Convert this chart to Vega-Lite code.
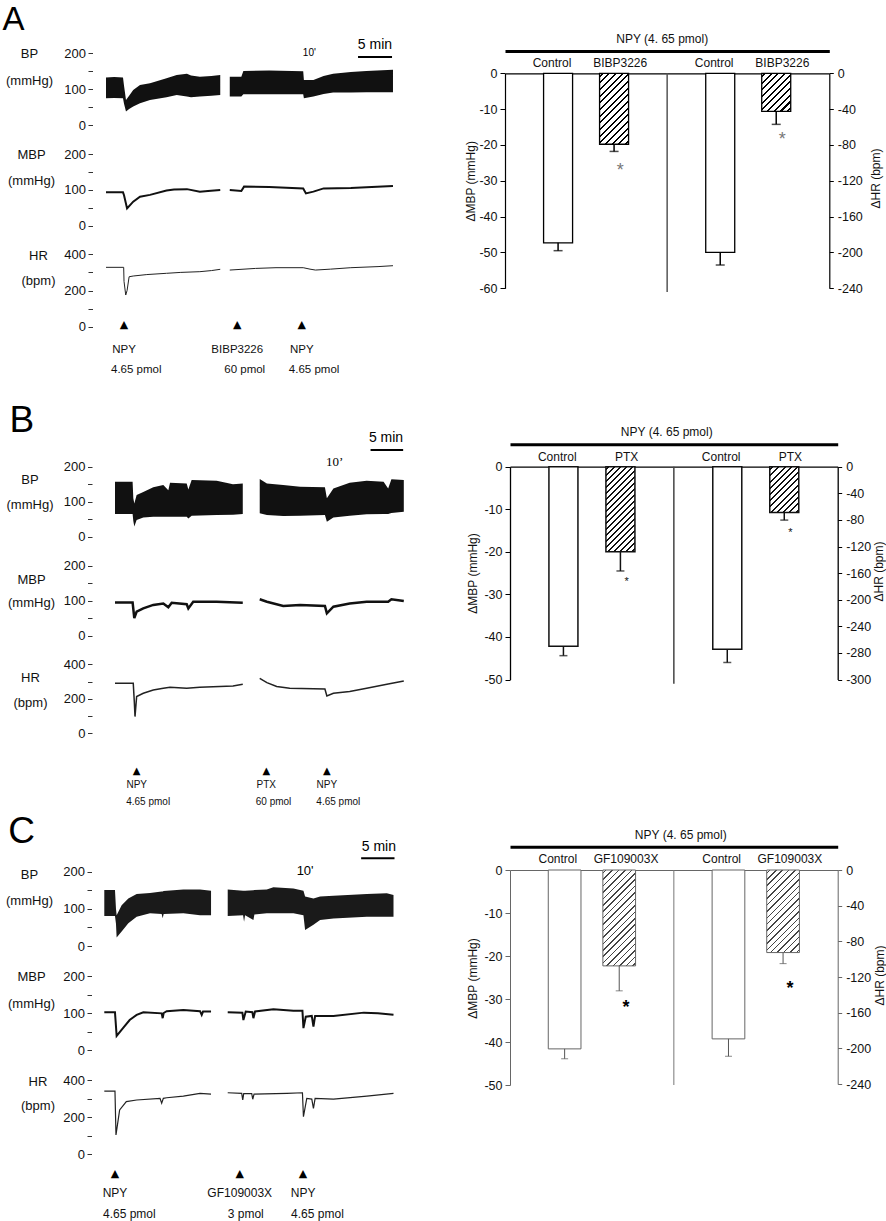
{
"$schema": "https://vega.github.io/schema/vega-lite/v6.json",
"width": 886, "height": 1221, "autosize": "none", "padding": 0, "background": "#ffffff",
"config": {"view": {"stroke": null}, "font": "Liberation Sans",
  "axis": {"grid": false, "labelFont": "Liberation Sans", "titleFont": "Liberation Sans", "titleFontWeight": "normal", "labelOverlap": false, "labelColor": "#111", "titleColor": "#111", "labelFlush": false},
  "text": {"font": "Liberation Sans"}},
"datasets": {
"trace": [
{"p":"A","s":"BP","g":1,"t":0,"lo":75,"hi":133},{"p":"A","s":"BP","g":1,"t":1.2,"lo":76,"hi":134},{"p":"A","s":"BP","g":1,"t":2.5,"lo":75,"hi":133},{"p":"A","s":"BP","g":1,"t":2.65,"lo":60,"hi":110},{"p":"A","s":"BP","g":1,"t":2.94,"lo":38,"hi":70},{"p":"A","s":"BP","g":1,"t":3.4,"lo":45,"hi":82},{"p":"A","s":"BP","g":1,"t":4.0,"lo":52,"hi":98},{"p":"A","s":"BP","g":1,"t":5.0,"lo":61,"hi":112},{"p":"A","s":"BP","g":1,"t":6.47,"lo":70,"hi":117},{"p":"A","s":"BP","g":1,"t":8.9,"lo":78,"hi":131},{"p":"A","s":"BP","g":1,"t":10.4,"lo":84,"hi":140},{"p":"A","s":"BP","g":1,"t":11.9,"lo":80,"hi":143},{"p":"A","s":"BP","g":1,"t":12.5,"lo":78,"hi":138},{"p":"A","s":"BP","g":1,"t":13.8,"lo":80,"hi":135},{"p":"A","s":"BP","g":1,"t":15.5,"lo":82,"hi":137},{"p":"A","s":"BP","g":1,"t":16.8,"lo":84,"hi":140},
{"p":"A","s":"BP","g":2,"t":18.2,"lo":80,"hi":135},{"p":"A","s":"BP","g":2,"t":19.9,"lo":80,"hi":135},{"p":"A","s":"BP","g":2,"t":20.2,"lo":86,"hi":151},{"p":"A","s":"BP","g":2,"t":24,"lo":86,"hi":152},{"p":"A","s":"BP","g":2,"t":29.0,"lo":86,"hi":150},{"p":"A","s":"BP","g":2,"t":29.1,"lo":75,"hi":126},{"p":"A","s":"BP","g":2,"t":30.5,"lo":80,"hi":126},{"p":"A","s":"BP","g":2,"t":32.0,"lo":87,"hi":137},{"p":"A","s":"BP","g":2,"t":33.4,"lo":91,"hi":143},{"p":"A","s":"BP","g":2,"t":36,"lo":91,"hi":148},{"p":"A","s":"BP","g":2,"t":38.3,"lo":92,"hi":151},{"p":"A","s":"BP","g":2,"t":42.2,"lo":92,"hi":154},
{"p":"A","s":"MBP","g":1,"t":0,"v":93},{"p":"A","s":"MBP","g":1,"t":2.5,"v":93},{"p":"A","s":"MBP","g":1,"t":2.65,"v":85},{"p":"A","s":"MBP","g":1,"t":3.1,"v":48},{"p":"A","s":"MBP","g":1,"t":4.0,"v":67},{"p":"A","s":"MBP","g":1,"t":5.0,"v":81},{"p":"A","s":"MBP","g":1,"t":6.47,"v":86},{"p":"A","s":"MBP","g":1,"t":8.9,"v":98},{"p":"A","s":"MBP","g":1,"t":10,"v":101},{"p":"A","s":"MBP","g":1,"t":11.9,"v":102},{"p":"A","s":"MBP","g":1,"t":13.8,"v":95},{"p":"A","s":"MBP","g":1,"t":15,"v":97},{"p":"A","s":"MBP","g":1,"t":16.8,"v":99.5},
{"p":"A","s":"MBP","g":2,"t":18.2,"v":99.5},{"p":"A","s":"MBP","g":2,"t":19.9,"v":97},{"p":"A","s":"MBP","g":2,"t":20.3,"v":109},{"p":"A","s":"MBP","g":2,"t":24,"v":108},{"p":"A","s":"MBP","g":2,"t":29.0,"v":104},{"p":"A","s":"MBP","g":2,"t":29.4,"v":90},{"p":"A","s":"MBP","g":2,"t":30.5,"v":95},{"p":"A","s":"MBP","g":2,"t":32.0,"v":104},{"p":"A","s":"MBP","g":2,"t":36,"v":105},{"p":"A","s":"MBP","g":2,"t":38.3,"v":107},{"p":"A","s":"MBP","g":2,"t":42.2,"v":111},
{"p":"A","s":"HR","g":1,"t":0,"v":328},{"p":"A","s":"HR","g":1,"t":2.6,"v":328},{"p":"A","s":"HR","g":1,"t":2.65,"v":250},{"p":"A","s":"HR","g":1,"t":2.9,"v":175},{"p":"A","s":"HR","g":1,"t":3.1,"v":200},{"p":"A","s":"HR","g":1,"t":3.4,"v":276},{"p":"A","s":"HR","g":1,"t":4.0,"v":280},{"p":"A","s":"HR","g":1,"t":6,"v":288},{"p":"A","s":"HR","g":1,"t":8.9,"v":295},{"p":"A","s":"HR","g":1,"t":11,"v":300},{"p":"A","s":"HR","g":1,"t":13.8,"v":304},{"p":"A","s":"HR","g":1,"t":15.5,"v":310},{"p":"A","s":"HR","g":1,"t":16.8,"v":317},
{"p":"A","s":"HR","g":2,"t":18.2,"v":313},{"p":"A","s":"HR","g":2,"t":22,"v":322},{"p":"A","s":"HR","g":2,"t":25,"v":326},{"p":"A","s":"HR","g":2,"t":29,"v":326},{"p":"A","s":"HR","g":2,"t":30,"v":318},{"p":"A","s":"HR","g":2,"t":30.8,"v":313},{"p":"A","s":"HR","g":2,"t":33,"v":318},{"p":"A","s":"HR","g":2,"t":36,"v":326},{"p":"A","s":"HR","g":2,"t":40,"v":332},{"p":"A","s":"HR","g":2,"t":42.2,"v":337},
{"p":"B","s":"BP","g":1,"t":0,"lo":65,"hi":157},{"p":"B","s":"BP","g":1,"t":2.7,"lo":65,"hi":157},{"p":"B","s":"BP","g":1,"t":2.81,"lo":45,"hi":110},{"p":"B","s":"BP","g":1,"t":2.96,"lo":29,"hi":95},{"p":"B","s":"BP","g":1,"t":3.32,"lo":48,"hi":119},{"p":"B","s":"BP","g":1,"t":4.34,"lo":55,"hi":128},{"p":"B","s":"BP","g":1,"t":5.87,"lo":57,"hi":141},{"p":"B","s":"BP","g":1,"t":7.41,"lo":57,"hi":148},{"p":"B","s":"BP","g":1,"t":8.18,"lo":57,"hi":133},{"p":"B","s":"BP","g":1,"t":8.44,"lo":57,"hi":154},{"p":"B","s":"BP","g":1,"t":11.0,"lo":57,"hi":152},{"p":"B","s":"BP","g":1,"t":11.25,"lo":52,"hi":135},{"p":"B","s":"BP","g":1,"t":11.76,"lo":60,"hi":162},{"p":"B","s":"BP","g":1,"t":15.6,"lo":62,"hi":160},{"p":"B","s":"BP","g":1,"t":18.1,"lo":63,"hi":150},{"p":"B","s":"BP","g":1,"t":19.6,"lo":65,"hi":152},
{"p":"B","s":"BP","g":2,"t":22.2,"lo":67,"hi":165},{"p":"B","s":"BP","g":2,"t":23.3,"lo":62,"hi":152},{"p":"B","s":"BP","g":2,"t":25.8,"lo":59,"hi":148},{"p":"B","s":"BP","g":2,"t":28.4,"lo":60,"hi":143},{"p":"B","s":"BP","g":2,"t":32.2,"lo":62,"hi":141},{"p":"B","s":"BP","g":2,"t":32.5,"lo":43,"hi":110},{"p":"B","s":"BP","g":2,"t":33.5,"lo":55,"hi":138},{"p":"B","s":"BP","g":2,"t":36.0,"lo":60,"hi":154},{"p":"B","s":"BP","g":2,"t":38.6,"lo":64,"hi":160},{"p":"B","s":"BP","g":2,"t":41.2,"lo":65,"hi":157},{"p":"B","s":"BP","g":2,"t":41.9,"lo":65,"hi":138},{"p":"B","s":"BP","g":2,"t":42.4,"lo":68,"hi":164},{"p":"B","s":"BP","g":2,"t":44.3,"lo":71,"hi":162},
{"p":"B","s":"MBP","g":1,"t":0,"v":95},{"p":"B","s":"MBP","g":1,"t":2.7,"v":95},{"p":"B","s":"MBP","g":1,"t":2.96,"v":50},{"p":"B","s":"MBP","g":1,"t":3.32,"v":69},{"p":"B","s":"MBP","g":1,"t":4.34,"v":78},{"p":"B","s":"MBP","g":1,"t":5.87,"v":88},{"p":"B","s":"MBP","g":1,"t":7.41,"v":92},{"p":"B","s":"MBP","g":1,"t":8.18,"v":81},{"p":"B","s":"MBP","g":1,"t":8.7,"v":94},{"p":"B","s":"MBP","g":1,"t":11.0,"v":90},{"p":"B","s":"MBP","g":1,"t":11.25,"v":78},{"p":"B","s":"MBP","g":1,"t":12,"v":97},{"p":"B","s":"MBP","g":1,"t":15.6,"v":97},{"p":"B","s":"MBP","g":1,"t":19.6,"v":94},
{"p":"B","s":"MBP","g":2,"t":22.2,"v":104},{"p":"B","s":"MBP","g":2,"t":23.3,"v":97},{"p":"B","s":"MBP","g":2,"t":25.8,"v":85},{"p":"B","s":"MBP","g":2,"t":28.4,"v":88},{"p":"B","s":"MBP","g":2,"t":32.2,"v":85},{"p":"B","s":"MBP","g":2,"t":32.5,"v":64},{"p":"B","s":"MBP","g":2,"t":33.5,"v":83},{"p":"B","s":"MBP","g":2,"t":36,"v":92},{"p":"B","s":"MBP","g":2,"t":38.6,"v":97},{"p":"B","s":"MBP","g":2,"t":41.9,"v":97},{"p":"B","s":"MBP","g":2,"t":42.4,"v":104},{"p":"B","s":"MBP","g":2,"t":44.3,"v":99},
{"p":"B","s":"HR","g":1,"t":0,"v":290},{"p":"B","s":"HR","g":1,"t":2.8,"v":290},{"p":"B","s":"HR","g":1,"t":2.96,"v":184},{"p":"B","s":"HR","g":1,"t":3.07,"v":97},{"p":"B","s":"HR","g":1,"t":3.32,"v":213},{"p":"B","s":"HR","g":1,"t":4.34,"v":232},{"p":"B","s":"HR","g":1,"t":5.87,"v":251},{"p":"B","s":"HR","g":1,"t":7.41,"v":261},{"p":"B","s":"HR","g":1,"t":8.44,"v":267},{"p":"B","s":"HR","g":1,"t":11,"v":261},{"p":"B","s":"HR","g":1,"t":13,"v":267},{"p":"B","s":"HR","g":1,"t":18.1,"v":274},{"p":"B","s":"HR","g":1,"t":19.6,"v":284},
{"p":"B","s":"HR","g":2,"t":22.2,"v":319},{"p":"B","s":"HR","g":2,"t":23.3,"v":294},{"p":"B","s":"HR","g":2,"t":24.8,"v":271},{"p":"B","s":"HR","g":2,"t":26.8,"v":261},{"p":"B","s":"HR","g":2,"t":32.2,"v":257},{"p":"B","s":"HR","g":2,"t":32.5,"v":216},{"p":"B","s":"HR","g":2,"t":33.5,"v":232},{"p":"B","s":"HR","g":2,"t":36,"v":242},{"p":"B","s":"HR","g":2,"t":38.6,"v":261},{"p":"B","s":"HR","g":2,"t":41.9,"v":286},{"p":"B","s":"HR","g":2,"t":44.3,"v":303},
{"p":"C","s":"BP","g":1,"t":0,"lo":81,"hi":151},{"p":"C","s":"BP","g":1,"t":1.6,"lo":81,"hi":151},{"p":"C","s":"BP","g":1,"t":1.75,"lo":60,"hi":100},{"p":"C","s":"BP","g":1,"t":1.85,"lo":23,"hi":83},{"p":"C","s":"BP","g":1,"t":2.6,"lo":39,"hi":110},{"p":"C","s":"BP","g":1,"t":3.6,"lo":61,"hi":128},{"p":"C","s":"BP","g":1,"t":4.85,"lo":79,"hi":140},{"p":"C","s":"BP","g":1,"t":6.85,"lo":88,"hi":143},{"p":"C","s":"BP","g":1,"t":8.6,"lo":86,"hi":147},{"p":"C","s":"BP","g":1,"t":8.75,"lo":75,"hi":147},{"p":"C","s":"BP","g":1,"t":8.9,"lo":86,"hi":148},{"p":"C","s":"BP","g":1,"t":11.85,"lo":88,"hi":152},{"p":"C","s":"BP","g":1,"t":14.35,"lo":83,"hi":152},{"p":"C","s":"BP","g":1,"t":16.0,"lo":83,"hi":149},
{"p":"C","s":"BP","g":2,"t":18.5,"lo":81,"hi":152},{"p":"C","s":"BP","g":2,"t":20.8,"lo":83,"hi":149},{"p":"C","s":"BP","g":2,"t":20.95,"lo":65,"hi":149},{"p":"C","s":"BP","g":2,"t":21.1,"lo":83,"hi":149},{"p":"C","s":"BP","g":2,"t":22.35,"lo":70,"hi":150},{"p":"C","s":"BP","g":2,"t":22.5,"lo":85,"hi":151},{"p":"C","s":"BP","g":2,"t":24.35,"lo":88,"hi":152},{"p":"C","s":"BP","g":2,"t":25.35,"lo":88,"hi":158},{"p":"C","s":"BP","g":2,"t":28.35,"lo":88,"hi":155},{"p":"C","s":"BP","g":2,"t":29.85,"lo":83,"hi":149},{"p":"C","s":"BP","g":2,"t":30.1,"lo":43,"hi":133},{"p":"C","s":"BP","g":2,"t":31.35,"lo":57,"hi":128},{"p":"C","s":"BP","g":2,"t":32.35,"lo":70,"hi":133},{"p":"C","s":"BP","g":2,"t":34.35,"lo":74,"hi":135},{"p":"C","s":"BP","g":2,"t":39.35,"lo":79,"hi":140},{"p":"C","s":"BP","g":2,"t":42.35,"lo":79,"hi":142},{"p":"C","s":"BP","g":2,"t":43.35,"lo":79,"hi":137},
{"p":"C","s":"MBP","g":1,"t":0,"v":102},{"p":"C","s":"MBP","g":1,"t":1.6,"v":102},{"p":"C","s":"MBP","g":1,"t":1.85,"v":38},{"p":"C","s":"MBP","g":1,"t":2.8,"v":59},{"p":"C","s":"MBP","g":1,"t":3.8,"v":81},{"p":"C","s":"MBP","g":1,"t":4.85,"v":95},{"p":"C","s":"MBP","g":1,"t":5.85,"v":102},{"p":"C","s":"MBP","g":1,"t":8.6,"v":99},{"p":"C","s":"MBP","g":1,"t":8.75,"v":86},{"p":"C","s":"MBP","g":1,"t":8.9,"v":100},{"p":"C","s":"MBP","g":1,"t":9.35,"v":105},{"p":"C","s":"MBP","g":1,"t":11.85,"v":108},{"p":"C","s":"MBP","g":1,"t":14.35,"v":105},{"p":"C","s":"MBP","g":1,"t":14.6,"v":95},{"p":"C","s":"MBP","g":1,"t":14.8,"v":104},{"p":"C","s":"MBP","g":1,"t":16.0,"v":104},
{"p":"C","s":"MBP","g":2,"t":18.5,"v":102},{"p":"C","s":"MBP","g":2,"t":20.7,"v":101},{"p":"C","s":"MBP","g":2,"t":20.85,"v":81},{"p":"C","s":"MBP","g":2,"t":21.2,"v":104},{"p":"C","s":"MBP","g":2,"t":22.2,"v":102},{"p":"C","s":"MBP","g":2,"t":22.35,"v":86},{"p":"C","s":"MBP","g":2,"t":22.6,"v":104},{"p":"C","s":"MBP","g":2,"t":25.35,"v":110},{"p":"C","s":"MBP","g":2,"t":28.35,"v":106},{"p":"C","s":"MBP","g":2,"t":29.7,"v":106},{"p":"C","s":"MBP","g":2,"t":29.85,"v":59},{"p":"C","s":"MBP","g":2,"t":30.2,"v":90},{"p":"C","s":"MBP","g":2,"t":31.1,"v":92},{"p":"C","s":"MBP","g":2,"t":31.35,"v":63},{"p":"C","s":"MBP","g":2,"t":31.6,"v":92},{"p":"C","s":"MBP","g":2,"t":34.35,"v":92},{"p":"C","s":"MBP","g":2,"t":38.9,"v":101},{"p":"C","s":"MBP","g":2,"t":41,"v":99},{"p":"C","s":"MBP","g":2,"t":43.35,"v":95},
{"p":"C","s":"HR","g":1,"t":0,"v":340},{"p":"C","s":"HR","g":1,"t":1.6,"v":340},{"p":"C","s":"HR","g":1,"t":1.75,"v":103},{"p":"C","s":"HR","g":1,"t":2.3,"v":238},{"p":"C","s":"HR","g":1,"t":3.3,"v":283},{"p":"C","s":"HR","g":1,"t":4.85,"v":292},{"p":"C","s":"HR","g":1,"t":8.35,"v":301},{"p":"C","s":"HR","g":1,"t":8.6,"v":275},{"p":"C","s":"HR","g":1,"t":8.85,"v":301},{"p":"C","s":"HR","g":1,"t":9.35,"v":304},{"p":"C","s":"HR","g":1,"t":11.85,"v":313},{"p":"C","s":"HR","g":1,"t":14.35,"v":328},{"p":"C","s":"HR","g":1,"t":16.0,"v":324},
{"p":"C","s":"HR","g":2,"t":18.5,"v":331},{"p":"C","s":"HR","g":2,"t":20.6,"v":328},{"p":"C","s":"HR","g":2,"t":20.75,"v":292},{"p":"C","s":"HR","g":2,"t":20.9,"v":326},{"p":"C","s":"HR","g":2,"t":22.1,"v":326},{"p":"C","s":"HR","g":2,"t":22.25,"v":296},{"p":"C","s":"HR","g":2,"t":22.45,"v":324},{"p":"C","s":"HR","g":2,"t":27.35,"v":328},{"p":"C","s":"HR","g":2,"t":29.7,"v":331},{"p":"C","s":"HR","g":2,"t":29.85,"v":202},{"p":"C","s":"HR","g":2,"t":30.35,"v":301},{"p":"C","s":"HR","g":2,"t":31.1,"v":297},{"p":"C","s":"HR","g":2,"t":31.35,"v":247},{"p":"C","s":"HR","g":2,"t":31.6,"v":301},{"p":"C","s":"HR","g":2,"t":34.35,"v":297},{"p":"C","s":"HR","g":2,"t":39.35,"v":313},{"p":"C","s":"HR","g":2,"t":43.35,"v":328}
],
"ev": [
{"p":"A","t":2.65,"drug":"NPY","dose":"4.65 pmol"},{"p":"A","t":19.3,"drug":"BIBP3226","dose":"60 pmol"},{"p":"A","t":28.8,"drug":"NPY","dose":"4.65 pmol"},
{"p":"B","t":3.33,"drug":"NPY","dose":"4.65 pmol"},{"p":"B","t":23.2,"drug":"PTX","dose":"60 pmol"},{"p":"B","t":32.5,"drug":"NPY","dose":"4.65 pmol"},
{"p":"C","t":1.6,"drug":"NPY","dose":"4.65 pmol"},{"p":"C","t":20.3,"drug":"GF109003X","dose":"3  pmol"},{"p":"C","t":29.8,"drug":"NPY","dose":"4.65 pmol"}
],
"bars": [
{"p":"A","m":"MBP","tr":"Control","v":-47.3,"e":-49.5},{"p":"A","m":"MBP","tr":"BIBP3226","v":-19.8,"e":-21.8},{"p":"A","m":"HR","tr":"Control","v":-200,"e":-214},{"p":"A","m":"HR","tr":"BIBP3226","v":-42.5,"e":-57},
{"p":"B","m":"MBP","tr":"Control","v":-42.2,"e":-44.4},{"p":"B","m":"MBP","tr":"PTX","v":-20.0,"e":-24.5},{"p":"B","m":"HR","tr":"Control","v":-274.4,"e":-294.4},{"p":"B","m":"HR","tr":"PTX","v":-68.7,"e":-80.3},
{"p":"C","m":"MBP","tr":"Control","v":-41.6,"e":-43.9},{"p":"C","m":"MBP","tr":"GF109003X","v":-22.3,"e":-28.1},{"p":"C","m":"HR","tr":"Control","v":-189.4,"e":-208.9},{"p":"C","m":"HR","tr":"GF109003X","v":-92.6,"e":-105}
]
},
"layer": [
{"data": {"name": "trace"}, "transform": [{"filter": "datum.p=='A'&&datum.s=='BP'"}],
 "mark": {"type": "area", "color": "#111"},
 "encoding": {
  "x": {"field": "t", "type": "quantitative", "scale": {"domain": [0, 42.35], "range": [106, 394], "nice": false, "zero": false}, "axis": null},
  "y": {"field": "hi", "type": "quantitative", "stack": null, "scale": {"domain": [0, 200], "range": [125.3, 53.3], "nice": false, "zero": false},
    "axis": {"orient": "left", "offset": -92.5, "values": [0,50,100,150,200], "labelExpr": "datum.value%100==0?datum.label:''", "domain": false, "tickSize": 4.5, "tickColor": "#333", "labelPadding": 2.5, "labelFontSize": 13, "title": ["BP","(mmHg)"], "titleAngle": 0, "titleX": -63.5, "titleY": 53, "titleAlign": "center", "titleBaseline": "middle", "titleLineHeight": 27, "titleFontSize": 13}},
  "y2": {"field": "lo"},
  "detail": {"field": "g", "type": "nominal"}}},
{"data": {"values": [{"t0": 37.06, "t1": 42.06, "lab": "5 min"}]}, "mark": {"type": "rule", "color": "#000", "strokeWidth": 2},
 "encoding": {"x": {"field": "t0", "type": "quantitative", "scale": {"domain": [0, 42.35], "range": [106, 394], "nice": false, "zero": false}, "axis": null}, "x2": {"field": "t1"}, "y": {"datum": 189.7, "type": "quantitative", "scale": {"domain": [0, 200], "range": [125.3, 53.3], "nice": false, "zero": false}, "axis": null}}},
{"data": {"values": [{"t0": 37.06, "t1": 42.06, "lab": "5 min"}]}, "mark": {"type": "text", "align": "right", "baseline": "middle", "dy": -12, "fontSize": 14, "color": "#000"},
 "encoding": {"x": {"field": "t1", "type": "quantitative", "scale": {"domain": [0, 42.35], "range": [106, 394], "nice": false, "zero": false}, "axis": null}, "y": {"datum": 189.7, "type": "quantitative", "scale": {"domain": [0, 200], "range": [125.3, 53.3], "nice": false, "zero": false}, "axis": null}, "text": {"field": "lab"}}},
{"data": {"values": [{"t": 29.9, "lab": "10'"}]}, "mark": {"type": "text", "baseline": "middle", "fontSize": 10, "color": "#000"},
 "encoding": {"x": {"field": "t", "type": "quantitative", "scale": {"domain": [0, 42.35], "range": [106, 394], "nice": false, "zero": false}, "axis": null}, "y": {"datum": 200, "type": "quantitative", "scale": {"domain": [0, 200], "range": [125.3, 53.3], "nice": false, "zero": false}, "axis": null}, "text": {"field": "lab"}}},
{"data": {"values": [{"lab": "A"}]}, "mark": {"type": "text", "baseline": "alphabetic", "fontSize": 33, "color": "#000"},
 "encoding": {"x": {"datum": -13.6, "type": "quantitative", "scale": {"domain": [0, 42.35], "range": [106, 394], "nice": false, "zero": false}, "axis": null}, "y": {"datum": 264.7, "type": "quantitative", "scale": {"domain": [0, 200], "range": [125.3, 53.3], "nice": false, "zero": false}, "axis": null}, "text": {"field": "lab"}}},
{"data": {"name": "trace"}, "transform": [{"filter": "datum.p=='A'&&datum.s=='MBP'"}],
 "mark": {"type": "line", "color": "#111", "strokeWidth": 2},
 "encoding": {
  "x": {"field": "t", "type": "quantitative", "scale": {"domain": [0, 42.35], "range": [106, 394], "nice": false, "zero": false}, "axis": null},
  "y": {"field": "v", "type": "quantitative", "scale": {"domain": [0, 200], "range": [225.7, 154], "nice": false, "zero": false},
    "axis": {"orient": "left", "offset": -92.5, "values": [0,50,100,150,200], "labelExpr": "datum.value%100==0?datum.label:''", "domain": false, "tickSize": 4.5, "tickColor": "#333", "labelPadding": 2.5, "labelFontSize": 13, "title": ["MBP","(mmHg)"], "titleAngle": 0, "titleX": -61.5, "titleY": 154, "titleAlign": "center", "titleBaseline": "middle", "titleLineHeight": 26, "titleFontSize": 13}},
  "detail": {"field": "g", "type": "nominal"}}},
{"data": {"name": "trace"}, "transform": [{"filter": "datum.p=='A'&&datum.s=='HR'"}],
 "mark": {"type": "line", "color": "#222", "strokeWidth": 1},
 "encoding": {
  "x": {"field": "t", "type": "quantitative", "scale": {"domain": [0, 42.35], "range": [106, 394], "nice": false, "zero": false}, "axis": null},
  "y": {"field": "v", "type": "quantitative", "scale": {"domain": [0, 400], "range": [326.7, 254.3], "nice": false, "zero": false},
    "axis": {"orient": "left", "offset": -92.5, "values": [0,100,200,300,400], "labelExpr": "datum.value%200==0?datum.label:''", "domain": false, "tickSize": 4.5, "tickColor": "#333", "labelPadding": 2.5, "labelFontSize": 13, "title": ["HR","(bpm)"], "titleAngle": 0, "titleX": -54.5, "titleY": 255, "titleAlign": "center", "titleBaseline": "middle", "titleLineHeight": 25, "titleFontSize": 13}},
  "detail": {"field": "g", "type": "nominal"}}},
{"data": {"name": "ev"}, "transform": [{"filter": "datum.p=='A'"}],
 "mark": {"type": "text", "text": "▲", "font": "DejaVu Sans", "fontSize": 11, "baseline": "middle", "dy": -1.7, "color": "#000"},
 "encoding": {"x": {"field": "t", "type": "quantitative", "scale": {"domain": [0, 42.35], "range": [106, 394], "nice": false, "zero": false}, "axis": null}, "y": {"datum": 0, "type": "quantitative", "scale": {"domain": [0, 400], "range": [326.7, 254.3], "nice": false, "zero": false}, "axis": null}}},
{"data": {"name": "ev"}, "transform": [{"filter": "datum.p=='A'"}],
 "mark": {"type": "text", "align": "center", "baseline": "middle", "dy": 23.3, "fontSize": 11.5, "color": "#111"},
 "encoding": {"x": {"field": "t", "type": "quantitative", "scale": {"domain": [0, 42.35], "range": [106, 394], "nice": false, "zero": false}, "axis": null}, "y": {"datum": 0, "type": "quantitative", "scale": {"domain": [0, 400], "range": [326.7, 254.3], "nice": false, "zero": false}, "axis": null}, "text": {"field": "drug"}}},
{"data": {"name": "ev"}, "transform": [{"filter": "datum.p=='A'"}],
 "mark": {"type": "text", "align": "left", "baseline": "middle", "dx": -13, "dy": 43.3, "fontSize": 11.5, "color": "#111"},
 "encoding": {"x": {"field": "t", "type": "quantitative", "scale": {"domain": [0, 42.35], "range": [106, 394], "nice": false, "zero": false}, "axis": null}, "y": {"datum": 0, "type": "quantitative", "scale": {"domain": [0, 400], "range": [326.7, 254.3], "nice": false, "zero": false}, "axis": null}, "text": {"field": "dose"}}},

{"data": {"name": "bars"}, "transform": [{"filter": "datum.p=='A'&&datum.m=='MBP'"}],
 "mark": {"type": "bar", "stroke": "#000", "strokeWidth": 1.3},
 "encoding": {
  "x": {"field": "m", "type": "nominal", "scale": {"domain": ["MBP","HR"], "range": [505, 829.3], "paddingInner": 0, "paddingOuter": 0},
    "axis": {"orient": "top", "offset": -73.3, "domain": true, "domainColor": "#000", "domainWidth": 1.2, "ticks": false, "labels": false, "title": null}},
  "xOffset": {"field": "tr", "type": "nominal", "scale": {"domain": ["Control","BIBP3226"], "paddingInner": 0.482, "paddingOuter": 0.689}},
  "y": {"field": "v", "type": "quantitative", "stack": null, "scale": {"domain": [-60, 0], "range": [288.3, 73.3], "nice": false, "zero": false},
    "axis": {"orient": "left", "offset": -505, "values": [0,-10,-20,-30,-40,-50,-60], "labelExpr": "''+datum.value", "domainColor": "#000", "domainWidth": 1.2, "tickColor": "#000", "tickSize": 5, "labelPadding": 3, "labelFontSize": 12.5, "title": "ΔMBP (mmHg)", "titleFontSize": 12, "titleAngle": 270, "titleX": -35, "titleY": 180.8, "titleAlign": "center", "titleBaseline": "middle"}},
  "fill": {"condition": {"test": "datum.tr!='Control'", "value": {"gradient": "linear", "x1": 0, "y1": 0, "x2": 0.4934, "y2": 1.2071, "stops": [
{"offset":0.022,"color":"#fff"},{"offset":0.022,"color":"#000"},{"offset":0.044,"color":"#000"},{"offset":0.044,"color":"#fff"},
{"offset":0.089,"color":"#fff"},{"offset":0.089,"color":"#000"},{"offset":0.111,"color":"#000"},{"offset":0.111,"color":"#fff"},
{"offset":0.156,"color":"#fff"},{"offset":0.156,"color":"#000"},{"offset":0.178,"color":"#000"},{"offset":0.178,"color":"#fff"},
{"offset":0.222,"color":"#fff"},{"offset":0.222,"color":"#000"},{"offset":0.244,"color":"#000"},{"offset":0.244,"color":"#fff"},
{"offset":0.289,"color":"#fff"},{"offset":0.289,"color":"#000"},{"offset":0.311,"color":"#000"},{"offset":0.311,"color":"#fff"},
{"offset":0.356,"color":"#fff"},{"offset":0.356,"color":"#000"},{"offset":0.378,"color":"#000"},{"offset":0.378,"color":"#fff"},
{"offset":0.422,"color":"#fff"},{"offset":0.422,"color":"#000"},{"offset":0.444,"color":"#000"},{"offset":0.444,"color":"#fff"},
{"offset":0.489,"color":"#fff"},{"offset":0.489,"color":"#000"},{"offset":0.511,"color":"#000"},{"offset":0.511,"color":"#fff"},
{"offset":0.556,"color":"#fff"},{"offset":0.556,"color":"#000"},{"offset":0.578,"color":"#000"},{"offset":0.578,"color":"#fff"},
{"offset":0.622,"color":"#fff"},{"offset":0.622,"color":"#000"},{"offset":0.644,"color":"#000"},{"offset":0.644,"color":"#fff"},
{"offset":0.689,"color":"#fff"},{"offset":0.689,"color":"#000"},{"offset":0.711,"color":"#000"},{"offset":0.711,"color":"#fff"},
{"offset":0.756,"color":"#fff"},{"offset":0.756,"color":"#000"},{"offset":0.778,"color":"#000"},{"offset":0.778,"color":"#fff"},
{"offset":0.822,"color":"#fff"},{"offset":0.822,"color":"#000"},{"offset":0.844,"color":"#000"},{"offset":0.844,"color":"#fff"},
{"offset":0.889,"color":"#fff"},{"offset":0.889,"color":"#000"},{"offset":0.911,"color":"#000"},{"offset":0.911,"color":"#fff"},
{"offset":0.956,"color":"#fff"},{"offset":0.956,"color":"#000"},{"offset":0.978,"color":"#000"},{"offset":0.978,"color":"#fff"}]}}, "value": "#fff"}}},
{"data": {"name": "bars"}, "transform": [{"filter": "datum.p=='A'&&datum.m=='MBP'"}],
 "mark": {"type": "rule", "color": "#000", "strokeWidth": 1.5},
 "encoding": {"x": {"field": "m", "type": "nominal", "scale": {"domain": ["MBP","HR"], "range": [505, 829.3], "paddingInner": 0, "paddingOuter": 0}, "axis": null}, "xOffset": {"field": "tr", "type": "nominal", "scale": {"domain": ["Control","BIBP3226"], "paddingInner": 0.482, "paddingOuter": 0.689}}, "y": {"field": "v", "type": "quantitative", "scale": {"domain": [-60, 0], "range": [288.3, 73.3], "nice": false, "zero": false}, "axis": null}, "y2": {"field": "e"}}},
{"data": {"name": "bars"}, "transform": [{"filter": "datum.p=='A'&&datum.m=='MBP'"}],
 "mark": {"type": "tick", "orient": "horizontal", "size": 9, "thickness": 1.5, "color": "#000"},
 "encoding": {"x": {"field": "m", "type": "nominal", "scale": {"domain": ["MBP","HR"], "range": [505, 829.3], "paddingInner": 0, "paddingOuter": 0}, "axis": null}, "xOffset": {"field": "tr", "type": "nominal", "scale": {"domain": ["Control","BIBP3226"], "paddingInner": 0.482, "paddingOuter": 0.689}}, "y": {"field": "e", "type": "quantitative", "scale": {"domain": [-60, 0], "range": [288.3, 73.3], "nice": false, "zero": false}, "axis": null}}},
{"data": {"name": "bars"}, "transform": [{"filter": "datum.p=='A'&&datum.m=='MBP'&&datum.tr!='Control'"}],
 "mark": {"type": "text", "text": "*", "fontSize": 18, "color": "#777", "baseline": "alphabetic", "dy": 24.9},
 "encoding": {"x": {"field": "m", "type": "nominal", "scale": {"domain": ["MBP","HR"], "range": [505, 829.3], "paddingInner": 0, "paddingOuter": 0}, "axis": null}, "xOffset": {"field": "tr", "type": "nominal", "scale": {"domain": ["Control","BIBP3226"], "paddingInner": 0.482, "paddingOuter": 0.689}}, "y": {"field": "e", "type": "quantitative", "scale": {"domain": [-60, 0], "range": [288.3, 73.3], "nice": false, "zero": false}, "axis": null}}},
{"data": {"name": "bars"}, "transform": [{"filter": "datum.p=='A'"}],
 "mark": {"type": "text", "baseline": "middle", "dy": -10.3, "fontSize": 12, "color": "#111"},
 "encoding": {"x": {"field": "m", "type": "nominal", "scale": {"domain": ["MBP","HR"], "range": [505, 829.3], "paddingInner": 0, "paddingOuter": 0}, "axis": null}, "xOffset": {"field": "tr", "type": "nominal", "scale": {"domain": ["Control","BIBP3226"], "paddingInner": 0.482, "paddingOuter": 0.689}}, "y": {"datum": 0, "type": "quantitative", "scale": {"domain": [-60, 0], "range": [288.3, 73.3], "nice": false, "zero": false}, "axis": null}, "text": {"field": "tr"}}},
{"data": {"values": [{"m": "HR"}]}, "mark": {"type": "rule", "color": "#555", "strokeWidth": 1.5},
 "encoding": {"x": {"field": "m", "type": "nominal", "bandPosition": 0, "scale": {"domain": ["MBP","HR"], "range": [505, 829.3], "paddingInner": 0, "paddingOuter": 0}, "axis": null}, "y": {"datum": 0, "type": "quantitative", "scale": {"domain": [-60, 0], "range": [288.3, 73.3], "nice": false, "zero": false}, "axis": null}, "y2": {"datum": -61}}},
{"data": {"values": [{"m": "HR", "h": "NPY (4. 65 pmol)"}]}, "mark": {"type": "text", "baseline": "middle", "dy": -34, "dx": -86, "fontSize": 12, "color": "#111"},
 "encoding": {"x": {"field": "m", "type": "nominal", "scale": {"domain": ["MBP","HR"], "range": [505, 829.3], "paddingInner": 0, "paddingOuter": 0}, "axis": null}, "y": {"datum": 0, "type": "quantitative", "scale": {"domain": [-60, 0], "range": [288.3, 73.3], "nice": false, "zero": false}, "axis": null}, "text": {"field": "h"}}},
{"data": {"name": "bars"}, "transform": [{"filter": "datum.p=='A'&&datum.m=='HR'"}],
 "mark": {"type": "bar", "stroke": "#000", "strokeWidth": 1.3},
 "encoding": {
  "x": {"field": "m", "type": "nominal", "scale": {"domain": ["MBP","HR"], "range": [505, 829.3], "paddingInner": 0, "paddingOuter": 0},
    "axis": {"orient": "top", "offset": -51, "domain": true, "domainColor": "#000", "domainWidth": 3, "ticks": false, "labels": false, "title": null}},
  "xOffset": {"field": "tr", "type": "nominal", "scale": {"domain": ["Control","BIBP3226"], "paddingInner": 0.482, "paddingOuter": 0.689}},
  "y": {"field": "v", "type": "quantitative", "stack": null, "scale": {"domain": [-240, 0], "range": [288.3, 73.3], "nice": false, "zero": false},
    "axis": {"orient": "right", "offset": -56.7, "values": [0,-40,-80,-120,-160,-200,-240], "labelExpr": "''+datum.value", "domainColor": "#000", "domainWidth": 1.2, "tickColor": "#000", "tickSize": 4, "labelPadding": 4, "labelFontSize": 12.5, "title": "ΔHR (bpm)", "titleFontSize": 12, "titleAngle": 270, "titleX": 45.7, "titleY": 178, "titleAlign": "center", "titleBaseline": "middle"}},
  "fill": {"condition": {"test": "datum.tr!='Control'", "value": {"gradient": "linear", "x1": 0, "y1": 0, "x2": 0.8492, "y2": 1.1148, "stops": [
{"offset":0.034,"color":"#fff"},{"offset":0.034,"color":"#000"},{"offset":0.066,"color":"#000"},{"offset":0.066,"color":"#fff"},
{"offset":0.134,"color":"#fff"},{"offset":0.134,"color":"#000"},{"offset":0.166,"color":"#000"},{"offset":0.166,"color":"#fff"},
{"offset":0.234,"color":"#fff"},{"offset":0.234,"color":"#000"},{"offset":0.266,"color":"#000"},{"offset":0.266,"color":"#fff"},
{"offset":0.334,"color":"#fff"},{"offset":0.334,"color":"#000"},{"offset":0.366,"color":"#000"},{"offset":0.366,"color":"#fff"},
{"offset":0.434,"color":"#fff"},{"offset":0.434,"color":"#000"},{"offset":0.466,"color":"#000"},{"offset":0.466,"color":"#fff"},
{"offset":0.534,"color":"#fff"},{"offset":0.534,"color":"#000"},{"offset":0.566,"color":"#000"},{"offset":0.566,"color":"#fff"},
{"offset":0.634,"color":"#fff"},{"offset":0.634,"color":"#000"},{"offset":0.666,"color":"#000"},{"offset":0.666,"color":"#fff"},
{"offset":0.734,"color":"#fff"},{"offset":0.734,"color":"#000"},{"offset":0.766,"color":"#000"},{"offset":0.766,"color":"#fff"},
{"offset":0.834,"color":"#fff"},{"offset":0.834,"color":"#000"},{"offset":0.866,"color":"#000"},{"offset":0.866,"color":"#fff"},
{"offset":0.934,"color":"#fff"},{"offset":0.934,"color":"#000"},{"offset":0.966,"color":"#000"},{"offset":0.966,"color":"#fff"}]}}, "value": "#fff"}}},
{"data": {"name": "bars"}, "transform": [{"filter": "datum.p=='A'&&datum.m=='HR'"}],
 "mark": {"type": "rule", "color": "#000", "strokeWidth": 1.5},
 "encoding": {"x": {"field": "m", "type": "nominal", "scale": {"domain": ["MBP","HR"], "range": [505, 829.3], "paddingInner": 0, "paddingOuter": 0}, "axis": null}, "xOffset": {"field": "tr", "type": "nominal", "scale": {"domain": ["Control","BIBP3226"], "paddingInner": 0.482, "paddingOuter": 0.689}}, "y": {"field": "v", "type": "quantitative", "scale": {"domain": [-240, 0], "range": [288.3, 73.3], "nice": false, "zero": false}, "axis": null}, "y2": {"field": "e"}}},
{"data": {"name": "bars"}, "transform": [{"filter": "datum.p=='A'&&datum.m=='HR'"}],
 "mark": {"type": "tick", "orient": "horizontal", "size": 9, "thickness": 1.5, "color": "#000"},
 "encoding": {"x": {"field": "m", "type": "nominal", "scale": {"domain": ["MBP","HR"], "range": [505, 829.3], "paddingInner": 0, "paddingOuter": 0}, "axis": null}, "xOffset": {"field": "tr", "type": "nominal", "scale": {"domain": ["Control","BIBP3226"], "paddingInner": 0.482, "paddingOuter": 0.689}}, "y": {"field": "e", "type": "quantitative", "scale": {"domain": [-240, 0], "range": [288.3, 73.3], "nice": false, "zero": false}, "axis": null}}},
{"data": {"name": "bars"}, "transform": [{"filter": "datum.p=='A'&&datum.m=='HR'&&datum.tr!='Control'"}],
 "mark": {"type": "text", "text": "*", "fontSize": 18, "color": "#777", "baseline": "alphabetic", "dy": 20.7},
 "encoding": {"x": {"field": "m", "type": "nominal", "scale": {"domain": ["MBP","HR"], "range": [505, 829.3], "paddingInner": 0, "paddingOuter": 0}, "axis": null}, "xOffset": {"field": "tr", "type": "nominal", "scale": {"domain": ["Control","BIBP3226"], "paddingInner": 0.482, "paddingOuter": 0.689}}, "y": {"field": "e", "type": "quantitative", "scale": {"domain": [-240, 0], "range": [288.3, 73.3], "nice": false, "zero": false}, "axis": null}}},

{"data": {"name": "trace"}, "transform": [{"filter": "datum.p=='B'&&datum.s=='BP'"}],
 "mark": {"type": "area", "color": "#111"},
 "encoding": {
  "x": {"field": "t", "type": "quantitative", "scale": {"domain": [0, 44.3], "range": [115, 403.8], "nice": false, "zero": false}, "axis": null},
  "y": {"field": "hi", "type": "quantitative", "stack": null, "scale": {"domain": [0, 200], "range": [536.7, 466.7], "nice": false, "zero": false},
    "axis": {"orient": "left", "offset": -92, "values": [0,50,100,150,200], "labelExpr": "datum.value%100==0?datum.label:''", "domain": false, "tickSize": 4.5, "tickColor": "#333", "labelPadding": 2.5, "labelFontSize": 13, "title": ["BP","(mmHg)"], "titleAngle": 0, "titleX": -62.5, "titleY": 479, "titleAlign": "center", "titleBaseline": "middle", "titleLineHeight": 25, "titleFontSize": 13}},
  "y2": {"field": "lo"},
  "detail": {"field": "g", "type": "nominal"}}},
{"data": {"values": [{"t0": 39.2, "t1": 44.2, "lab": "5 min"}]}, "mark": {"type": "rule", "color": "#000", "strokeWidth": 2},
 "encoding": {"x": {"field": "t0", "type": "quantitative", "scale": {"domain": [0, 44.3], "range": [115, 403.8], "nice": false, "zero": false}, "axis": null}, "x2": {"field": "t1"}, "y": {"datum": 247.7, "type": "quantitative", "scale": {"domain": [0, 200], "range": [536.7, 466.7], "nice": false, "zero": false}, "axis": null}}},
{"data": {"values": [{"t0": 39.2, "t1": 44.2, "lab": "5 min"}]}, "mark": {"type": "text", "align": "right", "baseline": "middle", "dy": -12, "fontSize": 14, "color": "#000"},
 "encoding": {"x": {"field": "t1", "type": "quantitative", "scale": {"domain": [0, 44.3], "range": [115, 403.8], "nice": false, "zero": false}, "axis": null}, "y": {"datum": 247.7, "type": "quantitative", "scale": {"domain": [0, 200], "range": [536.7, 466.7], "nice": false, "zero": false}, "axis": null}, "text": {"field": "lab"}}},
{"data": {"values": [{"t": 33.7, "lab": "10’"}]}, "mark": {"type": "text", "baseline": "middle", "font": "Liberation Serif", "fontSize": 13, "color": "#000"},
 "encoding": {"x": {"field": "t", "type": "quantitative", "scale": {"domain": [0, 44.3], "range": [115, 403.8], "nice": false, "zero": false}, "axis": null}, "y": {"datum": 214.3, "type": "quantitative", "scale": {"domain": [0, 200], "range": [536.7, 466.7], "nice": false, "zero": false}, "axis": null}, "text": {"field": "lab"}}},
{"data": {"values": [{"lab": "B"}]}, "mark": {"type": "text", "baseline": "alphabetic", "fontSize": 37, "color": "#000"},
 "encoding": {"x": {"datum": -14.3, "type": "quantitative", "scale": {"domain": [0, 44.3], "range": [115, 403.8], "nice": false, "zero": false}, "axis": null}, "y": {"datum": 300, "type": "quantitative", "scale": {"domain": [0, 200], "range": [536.7, 466.7], "nice": false, "zero": false}, "axis": null}, "text": {"field": "lab"}}},
{"data": {"name": "trace"}, "transform": [{"filter": "datum.p=='B'&&datum.s=='MBP'"}],
 "mark": {"type": "line", "color": "#111", "strokeWidth": 2.5},
 "encoding": {
  "x": {"field": "t", "type": "quantitative", "scale": {"domain": [0, 44.3], "range": [115, 403.8], "nice": false, "zero": false}, "axis": null},
  "y": {"field": "v", "type": "quantitative", "scale": {"domain": [0, 200], "range": [635.7, 565.7], "nice": false, "zero": false},
    "axis": {"orient": "left", "offset": -92, "values": [0,50,100,150,200], "labelExpr": "datum.value%100==0?datum.label:''", "domain": false, "tickSize": 4.5, "tickColor": "#333", "labelPadding": 2.5, "labelFontSize": 13, "title": ["MBP","(mmHg)"], "titleAngle": 0, "titleX": -61, "titleY": 579, "titleAlign": "center", "titleBaseline": "middle", "titleLineHeight": 23, "titleFontSize": 13}},
  "detail": {"field": "g", "type": "nominal"}}},
{"data": {"name": "trace"}, "transform": [{"filter": "datum.p=='B'&&datum.s=='HR'"}],
 "mark": {"type": "line", "color": "#222", "strokeWidth": 1.5},
 "encoding": {
  "x": {"field": "t", "type": "quantitative", "scale": {"domain": [0, 44.3], "range": [115, 403.8], "nice": false, "zero": false}, "axis": null},
  "y": {"field": "v", "type": "quantitative", "scale": {"domain": [0, 400], "range": [733.3, 664.3], "nice": false, "zero": false},
    "axis": {"orient": "left", "offset": -92, "values": [0,100,200,300,400], "labelExpr": "datum.value%200==0?datum.label:''", "domain": false, "tickSize": 4.5, "tickColor": "#333", "labelPadding": 2.5, "labelFontSize": 13, "title": ["HR","(bpm)"], "titleAngle": 0, "titleX": -62, "titleY": 677, "titleAlign": "center", "titleBaseline": "middle", "titleLineHeight": 25, "titleFontSize": 13}},
  "detail": {"field": "g", "type": "nominal"}}},
{"data": {"name": "ev"}, "transform": [{"filter": "datum.p=='B'"}],
 "mark": {"type": "text", "text": "▲", "font": "DejaVu Sans", "fontSize": 10, "baseline": "middle", "dy": 37.4, "color": "#000"},
 "encoding": {"x": {"field": "t", "type": "quantitative", "scale": {"domain": [0, 44.3], "range": [115, 403.8], "nice": false, "zero": false}, "axis": null}, "y": {"datum": 0, "type": "quantitative", "scale": {"domain": [0, 400], "range": [733.3, 664.3], "nice": false, "zero": false}, "axis": null}}},
{"data": {"name": "ev"}, "transform": [{"filter": "datum.p=='B'"}],
 "mark": {"type": "text", "align": "center", "baseline": "middle", "dy": 51.7, "fontSize": 10, "color": "#111"},
 "encoding": {"x": {"field": "t", "type": "quantitative", "scale": {"domain": [0, 44.3], "range": [115, 403.8], "nice": false, "zero": false}, "axis": null}, "y": {"datum": 0, "type": "quantitative", "scale": {"domain": [0, 400], "range": [733.3, 664.3], "nice": false, "zero": false}, "axis": null}, "text": {"field": "drug"}}},
{"data": {"name": "ev"}, "transform": [{"filter": "datum.p=='B'"}],
 "mark": {"type": "text", "align": "left", "baseline": "middle", "dx": -10.5, "dy": 68.4, "fontSize": 10, "color": "#111"},
 "encoding": {"x": {"field": "t", "type": "quantitative", "scale": {"domain": [0, 44.3], "range": [115, 403.8], "nice": false, "zero": false}, "axis": null}, "y": {"datum": 0, "type": "quantitative", "scale": {"domain": [0, 400], "range": [733.3, 664.3], "nice": false, "zero": false}, "axis": null}, "text": {"field": "dose"}}},

{"data": {"name": "bars"}, "transform": [{"filter": "datum.p=='B'&&datum.m=='MBP'"}],
 "mark": {"type": "bar", "stroke": "#111", "strokeWidth": 1.5},
 "encoding": {
  "x": {"field": "m", "type": "nominal", "scale": {"domain": ["MBP","HR"], "range": [510, 837.7], "paddingInner": 0, "paddingOuter": 0},
    "axis": {"orient": "top", "offset": -466.7, "domain": true, "domainColor": "#000", "domainWidth": 1.3, "ticks": false, "labels": false, "title": null}},
  "xOffset": {"field": "tr", "type": "nominal", "scale": {"domain": ["Control","PTX"], "paddingInner": 0.491, "paddingOuter": 0.683}},
  "y": {"field": "v", "type": "quantitative", "stack": null, "scale": {"domain": [-50, 0], "range": [679.5, 466.7], "nice": false, "zero": false},
    "axis": {"orient": "left", "offset": -510, "values": [0,-10,-20,-30,-40,-50], "labelExpr": "''+datum.value", "domainColor": "#000", "domainWidth": 1.3, "tickColor": "#000", "tickSize": 5, "labelPadding": 3, "labelFontSize": 12.5, "title": "ΔMBP (mmHg)", "titleFontSize": 12, "titleAngle": 270, "titleX": -38, "titleY": 573, "titleAlign": "center", "titleBaseline": "middle"}},
  "fill": {"condition": {"test": "datum.tr!='Control'", "value": {"gradient": "linear", "x1": 0, "y1": 0, "x2": 0.4094, "y2": 1.2013, "stops": [
{"offset":0.0175,"color":"#fff"},{"offset":0.0175,"color":"#111"},{"offset":0.0351,"color":"#111"},{"offset":0.0351,"color":"#fff"},
{"offset":0.0701,"color":"#fff"},{"offset":0.0701,"color":"#111"},{"offset":0.0877,"color":"#111"},{"offset":0.0877,"color":"#fff"},
{"offset":0.1228,"color":"#fff"},{"offset":0.1228,"color":"#111"},{"offset":0.1404,"color":"#111"},{"offset":0.1404,"color":"#fff"},
{"offset":0.1754,"color":"#fff"},{"offset":0.1754,"color":"#111"},{"offset":0.193,"color":"#111"},{"offset":0.193,"color":"#fff"},
{"offset":0.228,"color":"#fff"},{"offset":0.228,"color":"#111"},{"offset":0.2456,"color":"#111"},{"offset":0.2456,"color":"#fff"},
{"offset":0.2807,"color":"#fff"},{"offset":0.2807,"color":"#111"},{"offset":0.2983,"color":"#111"},{"offset":0.2983,"color":"#fff"},
{"offset":0.3333,"color":"#fff"},{"offset":0.3333,"color":"#111"},{"offset":0.3509,"color":"#111"},{"offset":0.3509,"color":"#fff"},
{"offset":0.3859,"color":"#fff"},{"offset":0.3859,"color":"#111"},{"offset":0.4035,"color":"#111"},{"offset":0.4035,"color":"#fff"},
{"offset":0.4386,"color":"#fff"},{"offset":0.4386,"color":"#111"},{"offset":0.4562,"color":"#111"},{"offset":0.4562,"color":"#fff"},
{"offset":0.4912,"color":"#fff"},{"offset":0.4912,"color":"#111"},{"offset":0.5088,"color":"#111"},{"offset":0.5088,"color":"#fff"},
{"offset":0.5438,"color":"#fff"},{"offset":0.5438,"color":"#111"},{"offset":0.5614,"color":"#111"},{"offset":0.5614,"color":"#fff"},
{"offset":0.5965,"color":"#fff"},{"offset":0.5965,"color":"#111"},{"offset":0.6141,"color":"#111"},{"offset":0.6141,"color":"#fff"},
{"offset":0.6491,"color":"#fff"},{"offset":0.6491,"color":"#111"},{"offset":0.6667,"color":"#111"},{"offset":0.6667,"color":"#fff"},
{"offset":0.7017,"color":"#fff"},{"offset":0.7017,"color":"#111"},{"offset":0.7193,"color":"#111"},{"offset":0.7193,"color":"#fff"},
{"offset":0.7544,"color":"#fff"},{"offset":0.7544,"color":"#111"},{"offset":0.772,"color":"#111"},{"offset":0.772,"color":"#fff"},
{"offset":0.807,"color":"#fff"},{"offset":0.807,"color":"#111"},{"offset":0.8246,"color":"#111"},{"offset":0.8246,"color":"#fff"},
{"offset":0.8596,"color":"#fff"},{"offset":0.8596,"color":"#111"},{"offset":0.8772,"color":"#111"},{"offset":0.8772,"color":"#fff"},
{"offset":0.9123,"color":"#fff"},{"offset":0.9123,"color":"#111"},{"offset":0.9299,"color":"#111"},{"offset":0.9299,"color":"#fff"},
{"offset":0.9649,"color":"#fff"},{"offset":0.9649,"color":"#111"},{"offset":0.9825,"color":"#111"},{"offset":0.9825,"color":"#fff"}]}}, "value": "#fff"}}},
{"data": {"name": "bars"}, "transform": [{"filter": "datum.p=='B'&&datum.m=='MBP'"}],
 "mark": {"type": "rule", "color": "#111", "strokeWidth": 1.5},
 "encoding": {"x": {"field": "m", "type": "nominal", "scale": {"domain": ["MBP","HR"], "range": [510, 837.7], "paddingInner": 0, "paddingOuter": 0}, "axis": null}, "xOffset": {"field": "tr", "type": "nominal", "scale": {"domain": ["Control","PTX"], "paddingInner": 0.491, "paddingOuter": 0.683}}, "y": {"field": "v", "type": "quantitative", "scale": {"domain": [-50, 0], "range": [679.5, 466.7], "nice": false, "zero": false}, "axis": null}, "y2": {"field": "e"}}},
{"data": {"name": "bars"}, "transform": [{"filter": "datum.p=='B'&&datum.m=='MBP'"}],
 "mark": {"type": "tick", "orient": "horizontal", "size": 8, "thickness": 1.5, "color": "#111"},
 "encoding": {"x": {"field": "m", "type": "nominal", "scale": {"domain": ["MBP","HR"], "range": [510, 837.7], "paddingInner": 0, "paddingOuter": 0}, "axis": null}, "xOffset": {"field": "tr", "type": "nominal", "scale": {"domain": ["Control","PTX"], "paddingInner": 0.491, "paddingOuter": 0.683}}, "y": {"field": "e", "type": "quantitative", "scale": {"domain": [-50, 0], "range": [679.5, 466.7], "nice": false, "zero": false}, "axis": null}}},
{"data": {"name": "bars"}, "transform": [{"filter": "datum.p=='B'&&datum.m=='MBP'&&datum.tr!='Control'"}],
 "mark": {"type": "text", "text": "*", "fontSize": 11, "color": "#111", "baseline": "alphabetic", "dy": 13.7},
 "encoding": {"x": {"field": "m", "type": "nominal", "scale": {"domain": ["MBP","HR"], "range": [510, 837.7], "paddingInner": 0, "paddingOuter": 0}, "axis": null}, "xOffset": {"field": "tr", "type": "nominal", "scale": {"domain": ["Control","PTX"], "paddingInner": 0.491, "paddingOuter": 0.683}}, "y": {"field": "e", "type": "quantitative", "scale": {"domain": [-50, 0], "range": [679.5, 466.7], "nice": false, "zero": false}, "axis": null}}},
{"data": {"name": "bars"}, "transform": [{"filter": "datum.p=='B'"}],
 "mark": {"type": "text", "baseline": "middle", "dy": -10, "fontSize": 12, "color": "#111"},
 "encoding": {"x": {"field": "m", "type": "nominal", "scale": {"domain": ["MBP","HR"], "range": [510, 837.7], "paddingInner": 0, "paddingOuter": 0}, "axis": null}, "xOffset": {"field": "tr", "type": "nominal", "scale": {"domain": ["Control","PTX"], "paddingInner": 0.491, "paddingOuter": 0.683}}, "y": {"datum": 0, "type": "quantitative", "scale": {"domain": [-50, 0], "range": [679.5, 466.7], "nice": false, "zero": false}, "axis": null}, "text": {"field": "tr"}}},
{"data": {"values": [{"m": "HR"}]}, "mark": {"type": "rule", "color": "#444", "strokeWidth": 1.5},
 "encoding": {"x": {"field": "m", "type": "nominal", "bandPosition": 0, "scale": {"domain": ["MBP","HR"], "range": [510, 837.7], "paddingInner": 0, "paddingOuter": 0}, "axis": null}, "y": {"datum": 0, "type": "quantitative", "scale": {"domain": [-50, 0], "range": [679.5, 466.7], "nice": false, "zero": false}, "axis": null}, "y2": {"datum": -51}}},
{"data": {"values": [{"m": "HR", "h": "NPY (4. 65 pmol)"}]}, "mark": {"type": "text", "baseline": "middle", "dy": -35, "dx": -89, "fontSize": 12, "color": "#111"},
 "encoding": {"x": {"field": "m", "type": "nominal", "scale": {"domain": ["MBP","HR"], "range": [510, 837.7], "paddingInner": 0, "paddingOuter": 0}, "axis": null}, "y": {"datum": 0, "type": "quantitative", "scale": {"domain": [-50, 0], "range": [679.5, 466.7], "nice": false, "zero": false}, "axis": null}, "text": {"field": "h"}}},
{"data": {"name": "bars"}, "transform": [{"filter": "datum.p=='B'&&datum.m=='HR'"}],
 "mark": {"type": "bar", "stroke": "#111", "strokeWidth": 1.5},
 "encoding": {
  "x": {"field": "m", "type": "nominal", "scale": {"domain": ["MBP","HR"], "range": [510, 837.7], "paddingInner": 0, "paddingOuter": 0},
    "axis": {"orient": "top", "offset": -444.3, "domain": true, "domainColor": "#000", "domainWidth": 3, "ticks": false, "labels": false, "title": null}},
  "xOffset": {"field": "tr", "type": "nominal", "scale": {"domain": ["Control","PTX"], "paddingInner": 0.491, "paddingOuter": 0.683}},
  "y": {"field": "v", "type": "quantitative", "stack": null, "scale": {"domain": [-320, 0], "range": [679.5, 466.7], "nice": false, "zero": false},
    "axis": {"orient": "right", "offset": -48.3, "values": [0,-40,-80,-120,-160,-200,-240,-280,-320], "labelExpr": "datum.value==-320?'-300':''+datum.value", "domainColor": "#000", "domainWidth": 1.3, "tickColor": "#000", "tickSize": 4, "labelPadding": 4, "labelFontSize": 12.5, "title": "ΔHR (bpm)", "titleFontSize": 12, "titleAngle": 270, "titleX": 40.3, "titleY": 571, "titleAlign": "center", "titleBaseline": "middle"}},
  "fill": {"condition": {"test": "datum.tr!='Control'", "value": {"gradient": "linear", "x1": 0, "y1": 0, "x2": 0.7395, "y2": 1.1654, "stops": [
{"offset":0.0283,"color":"#fff"},{"offset":0.0283,"color":"#111"},{"offset":0.0551,"color":"#111"},{"offset":0.0551,"color":"#fff"},
{"offset":0.1116,"color":"#fff"},{"offset":0.1116,"color":"#111"},{"offset":0.1384,"color":"#111"},{"offset":0.1384,"color":"#fff"},
{"offset":0.1949,"color":"#fff"},{"offset":0.1949,"color":"#111"},{"offset":0.2217,"color":"#111"},{"offset":0.2217,"color":"#fff"},
{"offset":0.2783,"color":"#fff"},{"offset":0.2783,"color":"#111"},{"offset":0.3051,"color":"#111"},{"offset":0.3051,"color":"#fff"},
{"offset":0.3616,"color":"#fff"},{"offset":0.3616,"color":"#111"},{"offset":0.3884,"color":"#111"},{"offset":0.3884,"color":"#fff"},
{"offset":0.4449,"color":"#fff"},{"offset":0.4449,"color":"#111"},{"offset":0.4717,"color":"#111"},{"offset":0.4717,"color":"#fff"},
{"offset":0.5283,"color":"#fff"},{"offset":0.5283,"color":"#111"},{"offset":0.5551,"color":"#111"},{"offset":0.5551,"color":"#fff"},
{"offset":0.6116,"color":"#fff"},{"offset":0.6116,"color":"#111"},{"offset":0.6384,"color":"#111"},{"offset":0.6384,"color":"#fff"},
{"offset":0.6949,"color":"#fff"},{"offset":0.6949,"color":"#111"},{"offset":0.7217,"color":"#111"},{"offset":0.7217,"color":"#fff"},
{"offset":0.7783,"color":"#fff"},{"offset":0.7783,"color":"#111"},{"offset":0.8051,"color":"#111"},{"offset":0.8051,"color":"#fff"},
{"offset":0.8616,"color":"#fff"},{"offset":0.8616,"color":"#111"},{"offset":0.8884,"color":"#111"},{"offset":0.8884,"color":"#fff"},
{"offset":0.9449,"color":"#fff"},{"offset":0.9449,"color":"#111"},{"offset":0.9717,"color":"#111"},{"offset":0.9717,"color":"#fff"}]}}, "value": "#fff"}}},
{"data": {"name": "bars"}, "transform": [{"filter": "datum.p=='B'&&datum.m=='HR'"}],
 "mark": {"type": "rule", "color": "#111", "strokeWidth": 1.5},
 "encoding": {"x": {"field": "m", "type": "nominal", "scale": {"domain": ["MBP","HR"], "range": [510, 837.7], "paddingInner": 0, "paddingOuter": 0}, "axis": null}, "xOffset": {"field": "tr", "type": "nominal", "scale": {"domain": ["Control","PTX"], "paddingInner": 0.491, "paddingOuter": 0.683}}, "y": {"field": "v", "type": "quantitative", "scale": {"domain": [-320, 0], "range": [679.5, 466.7], "nice": false, "zero": false}, "axis": null}, "y2": {"field": "e"}}},
{"data": {"name": "bars"}, "transform": [{"filter": "datum.p=='B'&&datum.m=='HR'"}],
 "mark": {"type": "tick", "orient": "horizontal", "size": 8, "thickness": 1.5, "color": "#111"},
 "encoding": {"x": {"field": "m", "type": "nominal", "scale": {"domain": ["MBP","HR"], "range": [510, 837.7], "paddingInner": 0, "paddingOuter": 0}, "axis": null}, "xOffset": {"field": "tr", "type": "nominal", "scale": {"domain": ["Control","PTX"], "paddingInner": 0.491, "paddingOuter": 0.683}}, "y": {"field": "e", "type": "quantitative", "scale": {"domain": [-320, 0], "range": [679.5, 466.7], "nice": false, "zero": false}, "axis": null}}},
{"data": {"name": "bars"}, "transform": [{"filter": "datum.p=='B'&&datum.m=='HR'&&datum.tr!='Control'"}],
 "mark": {"type": "text", "text": "*", "fontSize": 11, "color": "#111", "baseline": "alphabetic", "dy": 16.2},
 "encoding": {"x": {"field": "m", "type": "nominal", "scale": {"domain": ["MBP","HR"], "range": [510, 837.7], "paddingInner": 0, "paddingOuter": 0}, "axis": null}, "xOffset": {"field": "tr", "type": "nominal", "scale": {"domain": ["Control","PTX"], "paddingInner": 0.491, "paddingOuter": 0.683}}, "y": {"field": "e", "type": "quantitative", "scale": {"domain": [-320, 0], "range": [679.5, 466.7], "nice": false, "zero": false}, "axis": null}}},

{"data": {"name": "trace"}, "transform": [{"filter": "datum.p=='C'&&datum.s=='BP'"}],
 "mark": {"type": "area", "color": "#1a1a1a"},
 "encoding": {
  "x": {"field": "t", "type": "quantitative", "scale": {"domain": [0, 43.35], "range": [104.3, 393.5], "nice": false, "zero": false}, "axis": null},
  "y": {"field": "hi", "type": "quantitative", "stack": null, "scale": {"domain": [0, 200], "range": [946, 871.7], "nice": false, "zero": false},
    "axis": {"orient": "left", "offset": -91.5, "values": [0,50,100,150,200], "labelExpr": "datum.value%100==0?datum.label:''", "domain": false, "tickSize": 4.5, "tickColor": "#333", "labelPadding": 2.5, "labelFontSize": 13, "title": ["BP","(mmHg)"], "titleAngle": 0, "titleX": -62.5, "titleY": 874, "titleAlign": "center", "titleBaseline": "middle", "titleLineHeight": 26, "titleFontSize": 13}},
  "y2": {"field": "lo"},
  "detail": {"field": "g", "type": "nominal"}}},
{"data": {"values": [{"t0": 38.5, "t1": 43.5, "lab": "5 min"}]}, "mark": {"type": "rule", "color": "#000", "strokeWidth": 2},
 "encoding": {"x": {"field": "t0", "type": "quantitative", "scale": {"domain": [0, 43.35], "range": [104.3, 393.5], "nice": false, "zero": false}, "axis": null}, "x2": {"field": "t1"}, "y": {"datum": 236, "type": "quantitative", "scale": {"domain": [0, 200], "range": [946, 871.7], "nice": false, "zero": false}, "axis": null}}},
{"data": {"values": [{"t0": 38.5, "t1": 43.5, "lab": "5 min"}]}, "mark": {"type": "text", "align": "right", "baseline": "middle", "dy": -11.6, "dx": 1.5, "fontSize": 14, "color": "#000"},
 "encoding": {"x": {"field": "t1", "type": "quantitative", "scale": {"domain": [0, 43.35], "range": [104.3, 393.5], "nice": false, "zero": false}, "axis": null}, "y": {"datum": 236, "type": "quantitative", "scale": {"domain": [0, 200], "range": [946, 871.7], "nice": false, "zero": false}, "axis": null}, "text": {"field": "lab"}}},
{"data": {"values": [{"t": 30.1, "lab": "10'"}]}, "mark": {"type": "text", "baseline": "middle", "fontSize": 13, "color": "#000"},
 "encoding": {"x": {"field": "t", "type": "quantitative", "scale": {"domain": [0, 43.35], "range": [104.3, 393.5], "nice": false, "zero": false}, "axis": null}, "y": {"datum": 202.7, "type": "quantitative", "scale": {"domain": [0, 200], "range": [946, 871.7], "nice": false, "zero": false}, "axis": null}, "text": {"field": "lab"}}},
{"data": {"values": [{"lab": "C"}]}, "mark": {"type": "text", "baseline": "alphabetic", "fontSize": 37, "color": "#000"},
 "encoding": {"x": {"datum": -12.4, "type": "quantitative", "scale": {"domain": [0, 43.35], "range": [104.3, 393.5], "nice": false, "zero": false}, "axis": null}, "y": {"datum": 276.4, "type": "quantitative", "scale": {"domain": [0, 200], "range": [946, 871.7], "nice": false, "zero": false}, "axis": null}, "text": {"field": "lab"}}},
{"data": {"name": "trace"}, "transform": [{"filter": "datum.p=='C'&&datum.s=='MBP'"}],
 "mark": {"type": "line", "color": "#111", "strokeWidth": 2},
 "encoding": {
  "x": {"field": "t", "type": "quantitative", "scale": {"domain": [0, 43.35], "range": [104.3, 393.5], "nice": false, "zero": false}, "axis": null},
  "y": {"field": "v", "type": "quantitative", "scale": {"domain": [0, 200], "range": [1050, 976], "nice": false, "zero": false},
    "axis": {"orient": "left", "offset": -91.5, "values": [0,50,100,150,200], "labelExpr": "datum.value%100==0?datum.label:''", "domain": false, "tickSize": 4.5, "tickColor": "#333", "labelPadding": 2.5, "labelFontSize": 13, "title": ["MBP","(mmHg)"], "titleAngle": 0, "titleX": -60.5, "titleY": 976.7, "titleAlign": "center", "titleBaseline": "middle", "titleLineHeight": 27, "titleFontSize": 13}},
  "detail": {"field": "g", "type": "nominal"}}},
{"data": {"name": "trace"}, "transform": [{"filter": "datum.p=='C'&&datum.s=='HR'"}],
 "mark": {"type": "line", "color": "#222", "strokeWidth": 1.2},
 "encoding": {
  "x": {"field": "t", "type": "quantitative", "scale": {"domain": [0, 43.35], "range": [104.3, 393.5], "nice": false, "zero": false}, "axis": null},
  "y": {"field": "v", "type": "quantitative", "scale": {"domain": [0, 400], "range": [1154, 1080], "nice": false, "zero": false},
    "axis": {"orient": "left", "offset": -91.5, "values": [0,100,200,300,400], "labelExpr": "datum.value%200==0?datum.label:''", "domain": false, "tickSize": 4.5, "tickColor": "#333", "labelPadding": 2.5, "labelFontSize": 13, "title": ["HR","(bpm)"], "titleAngle": 0, "titleX": -54, "titleY": 1081.7, "titleAlign": "center", "titleBaseline": "middle", "titleLineHeight": 24, "titleFontSize": 13}},
  "detail": {"field": "g", "type": "nominal"}}},
{"data": {"name": "ev"}, "transform": [{"filter": "datum.p=='C'"}],
 "mark": {"type": "text", "text": "▲", "font": "DejaVu Sans", "fontSize": 11, "baseline": "middle", "dy": 20, "color": "#000"},
 "encoding": {"x": {"field": "t", "type": "quantitative", "scale": {"domain": [0, 43.35], "range": [104.3, 393.5], "nice": false, "zero": false}, "axis": null}, "y": {"datum": 0, "type": "quantitative", "scale": {"domain": [0, 400], "range": [1154, 1080], "nice": false, "zero": false}, "axis": null}}},
{"data": {"name": "ev"}, "transform": [{"filter": "datum.p=='C'"}],
 "mark": {"type": "text", "align": "center", "baseline": "middle", "dy": 39, "fontSize": 12, "color": "#111"},
 "encoding": {"x": {"field": "t", "type": "quantitative", "scale": {"domain": [0, 43.35], "range": [104.3, 393.5], "nice": false, "zero": false}, "axis": null}, "y": {"datum": 0, "type": "quantitative", "scale": {"domain": [0, 400], "range": [1154, 1080], "nice": false, "zero": false}, "axis": null}, "text": {"field": "drug"}}},
{"data": {"name": "ev"}, "transform": [{"filter": "datum.p=='C'"}],
 "mark": {"type": "text", "align": "left", "baseline": "middle", "dx": -12, "dy": 60, "fontSize": 12, "color": "#111"},
 "encoding": {"x": {"field": "t", "type": "quantitative", "scale": {"domain": [0, 43.35], "range": [104.3, 393.5], "nice": false, "zero": false}, "axis": null}, "y": {"datum": 0, "type": "quantitative", "scale": {"domain": [0, 400], "range": [1154, 1080], "nice": false, "zero": false}, "axis": null}, "text": {"field": "dose"}}},

{"data": {"name": "bars"}, "transform": [{"filter": "datum.p=='C'&&datum.m=='MBP'"}],
 "mark": {"type": "bar", "stroke": "#666", "strokeWidth": 1},
 "encoding": {
  "x": {"field": "m", "type": "nominal", "scale": {"domain": ["MBP","HR"], "range": [510, 837.7], "paddingInner": 0, "paddingOuter": 0},
    "axis": {"orient": "top", "offset": -870, "domain": true, "domainColor": "#666", "domainWidth": 1, "ticks": false, "labels": false, "title": null}},
  "xOffset": {"field": "tr", "type": "nominal", "scale": {"domain": ["Control","GF109003X"], "paddingInner": 0.401, "paddingOuter": 0.701}},
  "y": {"field": "v", "type": "quantitative", "stack": null, "scale": {"domain": [-50, 0], "range": [1085, 870], "nice": false, "zero": false},
    "axis": {"orient": "left", "offset": -510, "values": [0,-10,-20,-30,-40,-50], "labelExpr": "''+datum.value", "domainColor": "#666", "domainWidth": 1, "tickColor": "#666", "tickSize": 5, "labelPadding": 3, "labelFontSize": 12.5, "title": "ΔMBP (mmHg)", "titleFontSize": 12, "titleAngle": 270, "titleX": -38, "titleY": 978, "titleAlign": "center", "titleBaseline": "middle"}},
  "fill": {"condition": {"test": "datum.tr!='Control'", "value": {"gradient": "linear", "x1": 0, "y1": 0, "x2": 0.4096, "y2": 1.2013, "stops": [
{"offset":0.019,"color":"#fff"},{"offset":0.019,"color":"#444"},{"offset":0.031,"color":"#444"},{"offset":0.031,"color":"#fff"},
{"offset":0.069,"color":"#fff"},{"offset":0.069,"color":"#444"},{"offset":0.081,"color":"#444"},{"offset":0.081,"color":"#fff"},
{"offset":0.119,"color":"#fff"},{"offset":0.119,"color":"#444"},{"offset":0.131,"color":"#444"},{"offset":0.131,"color":"#fff"},
{"offset":0.169,"color":"#fff"},{"offset":0.169,"color":"#444"},{"offset":0.181,"color":"#444"},{"offset":0.181,"color":"#fff"},
{"offset":0.219,"color":"#fff"},{"offset":0.219,"color":"#444"},{"offset":0.231,"color":"#444"},{"offset":0.231,"color":"#fff"},
{"offset":0.269,"color":"#fff"},{"offset":0.269,"color":"#444"},{"offset":0.281,"color":"#444"},{"offset":0.281,"color":"#fff"},
{"offset":0.319,"color":"#fff"},{"offset":0.319,"color":"#444"},{"offset":0.331,"color":"#444"},{"offset":0.331,"color":"#fff"},
{"offset":0.369,"color":"#fff"},{"offset":0.369,"color":"#444"},{"offset":0.381,"color":"#444"},{"offset":0.381,"color":"#fff"},
{"offset":0.419,"color":"#fff"},{"offset":0.419,"color":"#444"},{"offset":0.431,"color":"#444"},{"offset":0.431,"color":"#fff"},
{"offset":0.469,"color":"#fff"},{"offset":0.469,"color":"#444"},{"offset":0.481,"color":"#444"},{"offset":0.481,"color":"#fff"},
{"offset":0.519,"color":"#fff"},{"offset":0.519,"color":"#444"},{"offset":0.531,"color":"#444"},{"offset":0.531,"color":"#fff"},
{"offset":0.569,"color":"#fff"},{"offset":0.569,"color":"#444"},{"offset":0.581,"color":"#444"},{"offset":0.581,"color":"#fff"},
{"offset":0.619,"color":"#fff"},{"offset":0.619,"color":"#444"},{"offset":0.631,"color":"#444"},{"offset":0.631,"color":"#fff"},
{"offset":0.669,"color":"#fff"},{"offset":0.669,"color":"#444"},{"offset":0.681,"color":"#444"},{"offset":0.681,"color":"#fff"},
{"offset":0.719,"color":"#fff"},{"offset":0.719,"color":"#444"},{"offset":0.731,"color":"#444"},{"offset":0.731,"color":"#fff"},
{"offset":0.769,"color":"#fff"},{"offset":0.769,"color":"#444"},{"offset":0.781,"color":"#444"},{"offset":0.781,"color":"#fff"},
{"offset":0.819,"color":"#fff"},{"offset":0.819,"color":"#444"},{"offset":0.831,"color":"#444"},{"offset":0.831,"color":"#fff"},
{"offset":0.869,"color":"#fff"},{"offset":0.869,"color":"#444"},{"offset":0.881,"color":"#444"},{"offset":0.881,"color":"#fff"},
{"offset":0.919,"color":"#fff"},{"offset":0.919,"color":"#444"},{"offset":0.931,"color":"#444"},{"offset":0.931,"color":"#fff"},
{"offset":0.969,"color":"#fff"},{"offset":0.969,"color":"#444"},{"offset":0.981,"color":"#444"},{"offset":0.981,"color":"#fff"}]}}, "value": "#fff"}}},
{"data": {"name": "bars"}, "transform": [{"filter": "datum.p=='C'&&datum.m=='MBP'"}],
 "mark": {"type": "rule", "color": "#555", "strokeWidth": 1},
 "encoding": {"x": {"field": "m", "type": "nominal", "scale": {"domain": ["MBP","HR"], "range": [510, 837.7], "paddingInner": 0, "paddingOuter": 0}, "axis": null}, "xOffset": {"field": "tr", "type": "nominal", "scale": {"domain": ["Control","GF109003X"], "paddingInner": 0.401, "paddingOuter": 0.701}}, "y": {"field": "v", "type": "quantitative", "scale": {"domain": [-50, 0], "range": [1085, 870], "nice": false, "zero": false}, "axis": null}, "y2": {"field": "e"}}},
{"data": {"name": "bars"}, "transform": [{"filter": "datum.p=='C'&&datum.m=='MBP'"}],
 "mark": {"type": "tick", "orient": "horizontal", "size": 7, "thickness": 1, "color": "#555"},
 "encoding": {"x": {"field": "m", "type": "nominal", "scale": {"domain": ["MBP","HR"], "range": [510, 837.7], "paddingInner": 0, "paddingOuter": 0}, "axis": null}, "xOffset": {"field": "tr", "type": "nominal", "scale": {"domain": ["Control","GF109003X"], "paddingInner": 0.401, "paddingOuter": 0.701}}, "y": {"field": "e", "type": "quantitative", "scale": {"domain": [-50, 0], "range": [1085, 870], "nice": false, "zero": false}, "axis": null}}},
{"data": {"name": "bars"}, "transform": [{"filter": "datum.p=='C'&&datum.m=='MBP'&&datum.tr!='Control'"}],
 "mark": {"type": "text", "text": "*", "fontSize": 18, "fontWeight": "bold", "color": "#000", "baseline": "alphabetic", "dy": 22.2},
 "encoding": {"x": {"field": "m", "type": "nominal", "scale": {"domain": ["MBP","HR"], "range": [510, 837.7], "paddingInner": 0, "paddingOuter": 0}, "axis": null}, "xOffset": {"field": "tr", "type": "nominal", "scale": {"domain": ["Control","GF109003X"], "paddingInner": 0.401, "paddingOuter": 0.701}}, "y": {"field": "e", "type": "quantitative", "scale": {"domain": [-50, 0], "range": [1085, 870], "nice": false, "zero": false}, "axis": null}}},
{"data": {"name": "bars"}, "transform": [{"filter": "datum.p=='C'"}],
 "mark": {"type": "text", "baseline": "middle", "dy": -10.7, "fontSize": 12, "color": "#111"},
 "encoding": {"x": {"field": "m", "type": "nominal", "scale": {"domain": ["MBP","HR"], "range": [510, 837.7], "paddingInner": 0, "paddingOuter": 0}, "axis": null}, "xOffset": {"field": "tr", "type": "nominal", "scale": {"domain": ["Control","GF109003X"], "paddingInner": 0.401, "paddingOuter": 0.701}}, "y": {"datum": 0, "type": "quantitative", "scale": {"domain": [-50, 0], "range": [1085, 870], "nice": false, "zero": false}, "axis": null}, "text": {"field": "tr"}}},
{"data": {"values": [{"m": "HR"}]}, "mark": {"type": "rule", "color": "#777", "strokeWidth": 1},
 "encoding": {"x": {"field": "m", "type": "nominal", "bandPosition": 0, "scale": {"domain": ["MBP","HR"], "range": [510, 837.7], "paddingInner": 0, "paddingOuter": 0}, "axis": null}, "y": {"datum": 0, "type": "quantitative", "scale": {"domain": [-50, 0], "range": [1085, 870], "nice": false, "zero": false}, "axis": null}, "y2": {"datum": -50}}},
{"data": {"values": [{"m": "HR", "h": "NPY (4. 65 pmol)"}]}, "mark": {"type": "text", "baseline": "middle", "dy": -35, "dx": -75, "fontSize": 12, "color": "#111"},
 "encoding": {"x": {"field": "m", "type": "nominal", "scale": {"domain": ["MBP","HR"], "range": [510, 837.7], "paddingInner": 0, "paddingOuter": 0}, "axis": null}, "y": {"datum": 0, "type": "quantitative", "scale": {"domain": [-50, 0], "range": [1085, 870], "nice": false, "zero": false}, "axis": null}, "text": {"field": "h"}}},
{"data": {"name": "bars"}, "transform": [{"filter": "datum.p=='C'&&datum.m=='HR'"}],
 "mark": {"type": "bar", "stroke": "#666", "strokeWidth": 1},
 "encoding": {
  "x": {"field": "m", "type": "nominal", "scale": {"domain": ["MBP","HR"], "range": [510, 837.7], "paddingInner": 0, "paddingOuter": 0},
    "axis": {"orient": "top", "offset": -846.7, "domain": true, "domainColor": "#000", "domainWidth": 3, "ticks": false, "labels": false, "title": null}},
  "xOffset": {"field": "tr", "type": "nominal", "scale": {"domain": ["Control","GF109003X"], "paddingInner": 0.401, "paddingOuter": 0.701}},
  "y": {"field": "v", "type": "quantitative", "stack": null, "scale": {"domain": [-240, 0], "range": [1084, 870], "nice": false, "zero": false},
    "axis": {"orient": "right", "offset": -48.3, "values": [0,-40,-80,-120,-160,-200,-240], "labelExpr": "''+datum.value", "domainColor": "#666", "domainWidth": 1, "tickColor": "#666", "tickSize": 4, "labelPadding": 4, "labelFontSize": 12.5, "title": "ΔHR (bpm)", "titleFontSize": 12, "titleAngle": 270, "titleX": 41.3, "titleY": 975, "titleAlign": "center", "titleBaseline": "middle"}},
  "fill": {"condition": {"test": "datum.tr!='Control'", "value": {"gradient": "linear", "x1": 0, "y1": 0, "x2": 0.4777, "y2": 1.2068, "stops": [
{"offset":0.0213,"color":"#fff"},{"offset":0.0213,"color":"#444"},{"offset":0.0343,"color":"#444"},{"offset":0.0343,"color":"#fff"},
{"offset":0.0768,"color":"#fff"},{"offset":0.0768,"color":"#444"},{"offset":0.0898,"color":"#444"},{"offset":0.0898,"color":"#fff"},
{"offset":0.1324,"color":"#fff"},{"offset":0.1324,"color":"#444"},{"offset":0.1454,"color":"#444"},{"offset":0.1454,"color":"#fff"},
{"offset":0.1879,"color":"#fff"},{"offset":0.1879,"color":"#444"},{"offset":0.2009,"color":"#444"},{"offset":0.2009,"color":"#fff"},
{"offset":0.2435,"color":"#fff"},{"offset":0.2435,"color":"#444"},{"offset":0.2565,"color":"#444"},{"offset":0.2565,"color":"#fff"},
{"offset":0.2991,"color":"#fff"},{"offset":0.2991,"color":"#444"},{"offset":0.3121,"color":"#444"},{"offset":0.3121,"color":"#fff"},
{"offset":0.3546,"color":"#fff"},{"offset":0.3546,"color":"#444"},{"offset":0.3676,"color":"#444"},{"offset":0.3676,"color":"#fff"},
{"offset":0.4102,"color":"#fff"},{"offset":0.4102,"color":"#444"},{"offset":0.4232,"color":"#444"},{"offset":0.4232,"color":"#fff"},
{"offset":0.4657,"color":"#fff"},{"offset":0.4657,"color":"#444"},{"offset":0.4787,"color":"#444"},{"offset":0.4787,"color":"#fff"},
{"offset":0.5213,"color":"#fff"},{"offset":0.5213,"color":"#444"},{"offset":0.5343,"color":"#444"},{"offset":0.5343,"color":"#fff"},
{"offset":0.5768,"color":"#fff"},{"offset":0.5768,"color":"#444"},{"offset":0.5898,"color":"#444"},{"offset":0.5898,"color":"#fff"},
{"offset":0.6324,"color":"#fff"},{"offset":0.6324,"color":"#444"},{"offset":0.6454,"color":"#444"},{"offset":0.6454,"color":"#fff"},
{"offset":0.6879,"color":"#fff"},{"offset":0.6879,"color":"#444"},{"offset":0.7009,"color":"#444"},{"offset":0.7009,"color":"#fff"},
{"offset":0.7435,"color":"#fff"},{"offset":0.7435,"color":"#444"},{"offset":0.7565,"color":"#444"},{"offset":0.7565,"color":"#fff"},
{"offset":0.7991,"color":"#fff"},{"offset":0.7991,"color":"#444"},{"offset":0.8121,"color":"#444"},{"offset":0.8121,"color":"#fff"},
{"offset":0.8546,"color":"#fff"},{"offset":0.8546,"color":"#444"},{"offset":0.8676,"color":"#444"},{"offset":0.8676,"color":"#fff"},
{"offset":0.9102,"color":"#fff"},{"offset":0.9102,"color":"#444"},{"offset":0.9232,"color":"#444"},{"offset":0.9232,"color":"#fff"},
{"offset":0.9657,"color":"#fff"},{"offset":0.9657,"color":"#444"},{"offset":0.9787,"color":"#444"},{"offset":0.9787,"color":"#fff"}]}}, "value": "#fff"}}},
{"data": {"name": "bars"}, "transform": [{"filter": "datum.p=='C'&&datum.m=='HR'"}],
 "mark": {"type": "rule", "color": "#555", "strokeWidth": 1},
 "encoding": {"x": {"field": "m", "type": "nominal", "scale": {"domain": ["MBP","HR"], "range": [510, 837.7], "paddingInner": 0, "paddingOuter": 0}, "axis": null}, "xOffset": {"field": "tr", "type": "nominal", "scale": {"domain": ["Control","GF109003X"], "paddingInner": 0.401, "paddingOuter": 0.701}}, "y": {"field": "v", "type": "quantitative", "scale": {"domain": [-240, 0], "range": [1084, 870], "nice": false, "zero": false}, "axis": null}, "y2": {"field": "e"}}},
{"data": {"name": "bars"}, "transform": [{"filter": "datum.p=='C'&&datum.m=='HR'"}],
 "mark": {"type": "tick", "orient": "horizontal", "size": 7, "thickness": 1, "color": "#555"},
 "encoding": {"x": {"field": "m", "type": "nominal", "scale": {"domain": ["MBP","HR"], "range": [510, 837.7], "paddingInner": 0, "paddingOuter": 0}, "axis": null}, "xOffset": {"field": "tr", "type": "nominal", "scale": {"domain": ["Control","GF109003X"], "paddingInner": 0.401, "paddingOuter": 0.701}}, "y": {"field": "e", "type": "quantitative", "scale": {"domain": [-240, 0], "range": [1084, 870], "nice": false, "zero": false}, "axis": null}}},
{"data": {"name": "bars"}, "transform": [{"filter": "datum.p=='C'&&datum.m=='HR'&&datum.tr!='Control'"}],
 "mark": {"type": "text", "text": "*", "fontSize": 18, "fontWeight": "bold", "color": "#000", "baseline": "alphabetic", "dy": 30.7},
 "encoding": {"x": {"field": "m", "type": "nominal", "scale": {"domain": ["MBP","HR"], "range": [510, 837.7], "paddingInner": 0, "paddingOuter": 0}, "axis": null}, "xOffset": {"field": "tr", "type": "nominal", "scale": {"domain": ["Control","GF109003X"], "paddingInner": 0.401, "paddingOuter": 0.701}}, "y": {"field": "e", "type": "quantitative", "scale": {"domain": [-240, 0], "range": [1084, 870], "nice": false, "zero": false}, "axis": null}}}
],
"resolve": {"scale": {"x": "independent", "y": "independent", "xOffset": "independent"}, "axis": {"x": "independent", "y": "independent"}}
}
